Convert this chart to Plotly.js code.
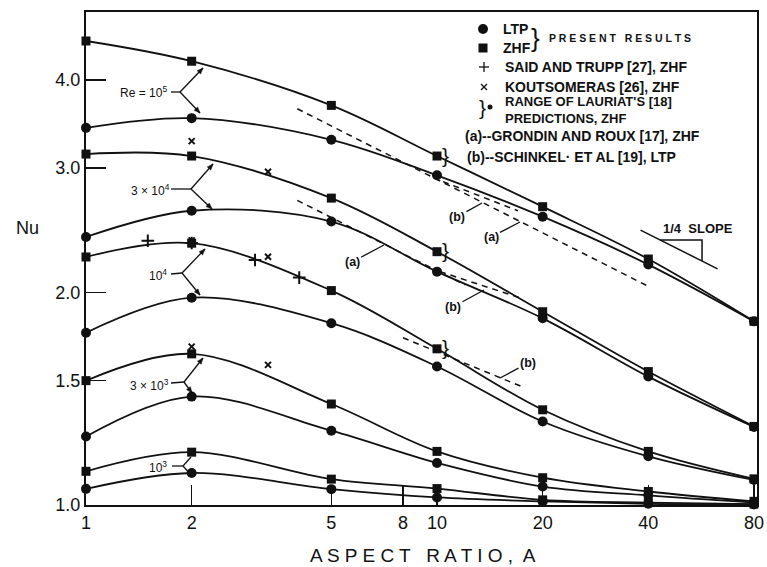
<!DOCTYPE html>
<html>
<head>
<meta charset="utf-8">
<script src="https://cdn.plot.ly/plotly-3.0.1.min.js"></script>
<style>
  html, body { margin: 0; padding: 0; background: #fff; }
  #chart { width: 767px; height: 567px; }
</style>
</head>
<body>
<div id="chart"></div>
<script>
// Aspect ratios at which Nu is tabulated
const aspect = [1, 2, 5, 10, 20, 40, 80];

// Present results, one series per Rayleigh number (ZHF = squares, LTP = circles)
const zhf_1e5 = [4.54, 4.25, 3.68, 3.12, 2.645, 2.23, 1.82];
const ltp_1e5 = [3.42, 3.53, 3.29, 2.93, 2.56, 2.19, 1.82];
const zhf_3e4 = [3.14, 3.12, 2.72, 2.284, 1.878, 1.545, 1.292];
const ltp_3e4 = [2.396, 2.61, 2.52, 2.14, 1.838, 1.52, 1.29];
const zhf_1e4 = [2.245, 2.348, 2.012, 1.664, 1.364, 1.191, 1.089];
const ltp_1e4 = [1.754, 1.966, 1.809, 1.571, 1.313, 1.172, 1.085];
const zhf_3e3 = [1.50, 1.637, 1.39, 1.191, 1.093, 1.045, 1.012];
const ltp_3e3 = [1.25, 1.424, 1.274, 1.147, 1.062, 1.032, 1.008];
const zhf_1e3 = [1.116, 1.188, 1.088, 1.055, 1.017, 1.008, 1.003];
const ltp_1e3 = [1.054, 1.11, 1.053, 1.025, 1.012, 1.004, 1.002];

// Said and Trupp [27], ZHF
const saidA  = [1.5, 2, 3.03, 4.05];
const saidNu = [2.367, 2.35, 2.223, 2.099];

// Koutsomeras [26], ZHF
const koutA  = [2, 3.3, 2, 3.3, 2, 3.3];
const koutNu = [3.275, 2.964, 2.37, 2.247, 1.676, 1.579];

// (a) Grondin and Roux [17], ZHF
const grA_1e5 = [4, 40],  grNu_1e5 = [3.64, 2.04];
const grA_3e4 = [4, 12],  grNu_3e4 = [2.70, 2.05];

// (b) Schinkel et al [19], LTP
const schA_1e5 = [10.4, 17],   schNu_1e5 = [2.87, 2.61];
const schA_3e4 = [10.2, 17.5], schNu_3e4 = [2.14, 1.96];
const schA_1e4 = [8, 17.8],    schNu_1e4 = [1.725, 1.465];

// 1/4 slope guide
const slopeA = [38, 63],  slopeNu = [2.45, 2.16];
const triA = [43.2, 56.9, 56.9], triNu = [2.373, 2.373, 2.216];

// Axis ticks
const xTicks = [1, 2, 5, 8, 10, 20, 40, 80];
const xTickText = ['1', '2', '5', '8', '10', '20', '40', '80'];
const yTicks = [1.0, 1.5, 2.0, 3.0, 4.0];
const yTickText = ['1.0', '1.5', '2.0', '3.0', '4.0'];

const INK = '#111';
const FONT = '"Liberation Sans", Arial, sans-serif';

function curve(y, symbol, size) {
  return {
    x: aspect, y: y, type: 'scatter', mode: 'lines+markers',
    line: { color: INK, width: 1.8, shape: 'spline', smoothing: 1 },
    marker: { symbol: symbol, size: size, color: INK },
    cliponaxis: false, hoverinfo: 'skip'
  };
}
function dashed(x, y) {
  return {
    x: x, y: y, type: 'scatter', mode: 'lines',
    line: { color: INK, width: 1.5, dash: '6px,5px' }, hoverinfo: 'skip'
  };
}
function solid(x, y) {
  return {
    x: x, y: y, type: 'scatter', mode: 'lines',
    line: { color: INK, width: 1.5 }, hoverinfo: 'skip'
  };
}

const traces = [
  curve(zhf_1e5, 'square', 9), curve(ltp_1e5, 'circle', 10),
  curve(zhf_3e4, 'square', 9), curve(ltp_3e4, 'circle', 10),
  curve(zhf_1e4, 'square', 9), curve(ltp_1e4, 'circle', 10),
  curve(zhf_3e3, 'square', 9), curve(ltp_3e3, 'circle', 10),
  curve(zhf_1e3, 'square', 9), curve(ltp_1e3, 'circle', 10),
  dashed(grA_1e5, grNu_1e5), dashed(grA_3e4, grNu_3e4),
  dashed(schA_1e5, schNu_1e5), dashed(schA_3e4, schNu_3e4), dashed(schA_1e4, schNu_1e4),
  solid(slopeA, slopeNu), solid(triA, triNu),
  { x: saidA, y: saidNu, type: 'scatter', mode: 'markers', hoverinfo: 'skip',
    marker: { symbol: 'cross-thin', size: 9, line: { color: INK, width: 2 } } },
  { x: koutA, y: koutNu, type: 'scatter', mode: 'markers', hoverinfo: 'skip',
    marker: { symbol: 'x-thin', size: 6, line: { color: INK, width: 2 } } }
];

// pixel -> paper helpers for text and pointer placement
const X = px => (px - 86) / 671;
const Y = py => (505 - py) / 493;

function txt(text, px, py, size, anchor, bold) {
  return {
    xref: 'paper', yref: 'paper', x: X(px), y: Y(py), text: text,
    showarrow: false, xanchor: anchor || 'center', yanchor: 'middle', align: 'left',
    font: { family: FONT, size: size, color: INK, weight: bold ? 'bold' : 'normal' }
  };
}
function tag(text, lx, ly, tx, ty) {
  return {
    xref: 'paper', yref: 'paper', x: X(tx), y: Y(ty),
    axref: 'pixel', ayref: 'pixel', ax: lx - tx, ay: ly - ty,
    text: text, showarrow: true, arrowhead: 0, arrowwidth: 1.3,
    arrowcolor: INK, standoff: 0,
    font: { family: FONT, size: 12.5, color: INK, weight: 'bold' }
  };
}
// Lauriat range brace beside the ZHF point at A = 10
function braceText(series) {
  return { xref: 'x', yref: 'y', x: Math.log10(aspect[3]), y: Math.log10(series[3]),
    xanchor: 'left', yanchor: 'middle', xshift: 3, yshift: 1, showarrow: false,
    text: '}', font: { family: FONT, size: 21, color: INK } };
}
function braceDot(series) {
  return { type: 'circle', xref: 'x', yref: 'y', xsizemode: 'pixel', ysizemode: 'pixel',
    xanchor: Math.log10(aspect[3]), yanchor: Math.log10(series[3]),
    x0: 13, x1: 18, y0: -2.5, y1: 2.5, fillcolor: INK, line: { width: 0 } };
}

const LF = 14; // key text size
const annotations = [
  // axis titles
  txt('Nu', 27, 228, 18),
  txt('A S P E C T   R A T I O ,  A', 423, 555, 19),

  // Rayleigh number labels
  txt('Re = 10<sup>5</sup>', 143, 92, 12),
  txt('3 × 10<sup>4</sup>', 150, 190, 12),
  txt('10<sup>4</sup>', 158, 275, 12),
  txt('3 × 10<sup>3</sup>', 149, 385, 12),
  txt('10<sup>3</sup>', 158, 467, 12),

  // (a)/(b) tags on the comparison lines
  tag('(b)', 457, 217, 482, 203),
  tag('(a)', 491, 237, 520, 222),
  tag('(a)', 352, 262, 384, 245),
  tag('(b)', 453, 307, 484, 290),
  tag('(b)', 528, 363, 500, 378),

  // slope guide label
  txt('1/4  SLOPE', 698, 229, 13, 'center', true),

  // key
  txt('LTP', 501, 29, LF, 'left', true),
  txt('ZHF', 501, 48, LF, 'left', true),
  txt('}', 535, 38, 26, 'center'),
  txt('P R E S E N T   R E S U L T S', 547, 38, 10.5, 'left', true),
  txt('SAID AND TRUPP [27], ZHF', 503, 67, LF, 'left', true),
  txt('KOUTSOMERAS [26], ZHF', 503, 87, LF, 'left', true),
  txt('}', 482, 107, 21, 'center'),
  txt('RANGE OF LAURIAT\'S [18]<br>PREDICTIONS, ZHF', 503, 110.5, 13, 'left', true),
  txt('(a)--GRONDIN AND ROUX [17], ZHF', 463, 136, LF, 'left', true),
  txt('(b)--SCHINKEL· ET AL [19], LTP', 465, 157, LF, 'left', true),

  braceText(zhf_1e5), braceText(zhf_3e4), braceText(zhf_1e4)
];

// pointer lines (pixel positions) for the Rayleigh-number brackets
function seg(x0, y0, x1, y1) {
  return { type: 'line', xref: 'paper', yref: 'paper',
    x0: X(x0), y0: Y(y0), x1: X(x1), y1: Y(y1), line: { color: INK, width: 1.3 } };
}
function head(x0, y0, x1, y1) {
  const dx = x1 - x0, dy = y1 - y0, L = Math.hypot(dx, dy);
  const ux = dx / L, uy = dy / L, bx = x1 - 6 * ux, by = y1 - 6 * uy;
  const p = [[x1, y1], [bx - 2.4 * uy, by + 2.4 * ux], [bx + 2.4 * uy, by - 2.4 * ux]];
  const path = 'M' + p.map(q => X(q[0]) + ',' + Y(q[1])).join(' L') + ' Z';
  return { type: 'path', xref: 'paper', yref: 'paper', path: path,
    fillcolor: INK, line: { color: INK, width: 0.5 } };
}
function pointer(vx, vy, tx, ty) {
  return [seg(vx, vy, tx, ty), head(vx, vy, tx, ty)];
}

function keyShape(type, px, py, r) {
  return {
    type: type, xref: 'paper', yref: 'paper', xsizemode: 'pixel', ysizemode: 'pixel',
    xanchor: X(px), yanchor: Y(py), x0: -r, x1: r, y0: -r, y1: r,
    fillcolor: INK, line: { width: 0 }
  };
}

const shapes = [
  // Re = 10^5
  seg(171, 92, 180, 92), ...pointer(180, 92, 203, 68), ...pointer(180, 92, 200, 113),
  // 3 x 10^4
  seg(171, 189, 191, 189), ...pointer(191, 189, 213, 164), ...pointer(191, 189, 212, 209),
  // 10^4
  seg(171, 274, 182, 273), ...pointer(182, 273, 205, 249), ...pointer(182, 273, 200, 295),
  // 3 x 10^3
  seg(171, 383, 184, 382), ...pointer(184, 382, 203, 358), ...pointer(184, 382, 192, 393),
  // 10^3
  seg(172, 466, 183, 466), seg(183, 466, 191, 457), seg(183, 466, 191, 475),

  // Lauriat range dots
  braceDot(zhf_1e5), braceDot(zhf_3e4), braceDot(zhf_1e4),

  // key symbols
  keyShape('circle', 483, 29, 5),
  keyShape('rect', 483, 48, 4.5),
  seg(479, 67, 489, 67), seg(484, 62, 484, 72),
  seg(481, 84, 487, 90), seg(481, 90, 487, 84),
  keyShape('circle', 490, 107, 2.5)
];

const layout = {
  width: 767, height: 567,
  margin: { l: 86, r: 10, t: 12, b: 62 },
  paper_bgcolor: '#fff', plot_bgcolor: '#fff',
  showlegend: false,
  font: { family: FONT, color: INK },
  xaxis: {
    type: 'log', range: [0, Math.log10(81.6)],
    tickvals: xTicks, ticktext: xTickText,
    ticks: 'inside', ticklen: 20, tickwidth: 1.5, tickcolor: INK,
    showline: true, mirror: true, linewidth: 2, linecolor: INK,
    showgrid: false, zeroline: false,
    tickfont: { family: FONT, size: 18, color: INK }
  },
  yaxis: {
    type: 'log', range: [0, Math.log10(4.99)],
    tickvals: yTicks, ticktext: yTickText,
    ticks: 'inside', ticklen: 20, tickwidth: 1.5, tickcolor: INK,
    showline: true, mirror: true, linewidth: 2, linecolor: INK,
    showgrid: false, zeroline: false,
    tickfont: { family: FONT, size: 18, color: INK }
  },
  annotations: annotations,
  shapes: shapes
};

Plotly.newPlot('chart', traces, layout, { displayModeBar: false, staticPlot: true });
</script>
</body>
</html>
